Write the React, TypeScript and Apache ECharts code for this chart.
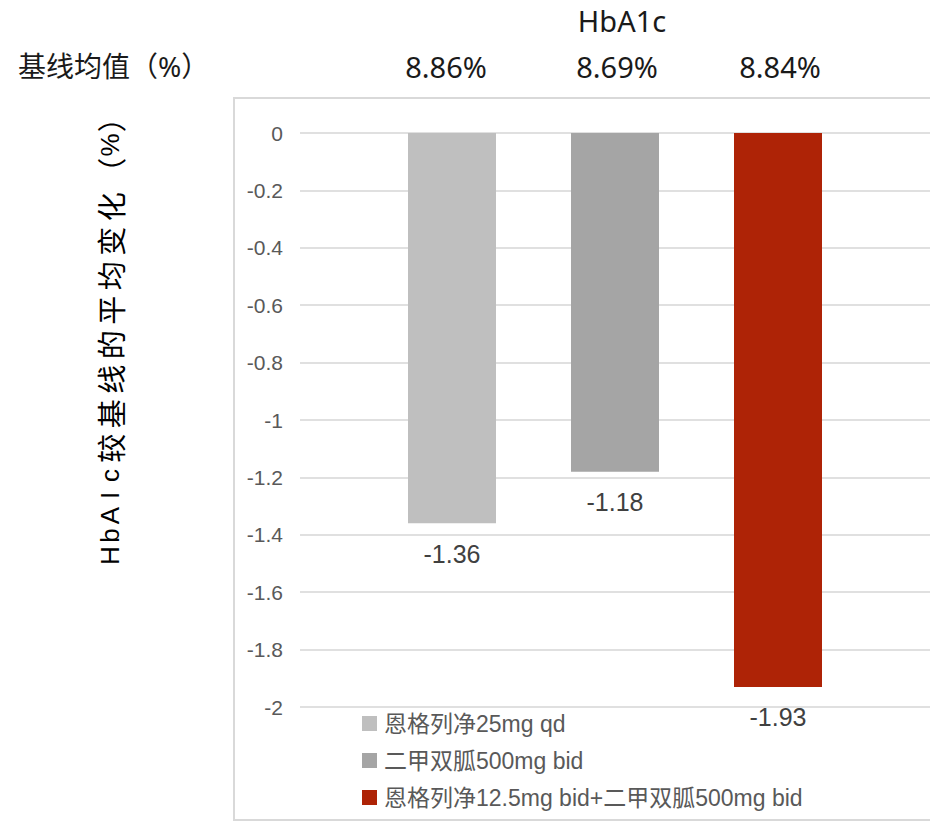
import React, { useEffect, useRef } from "react";
import * as echarts from "echarts";

// Chart data
const categories = ["HbA1c"];
const seriesNames = [
  "恩格列净25mg qd",
  "二甲双胍500mg bid",
  "恩格列净12.5mg bid+二甲双胍500mg bid",
];
const changeValues = [-1.36, -1.18, -1.93];
const baselineValues = [8.86, 8.69, 8.84];
const seriesColors = ["#bfbfbf", "#a5a5a5", "#ae2306"];
const yMin = -2;
const yMax = 0;
const yInterval = 0.2;
const baselineTitle = "基线均值（%）";
const yTitle = "HbAIc较基线的平均变化（%）";

// Layout
const W = 930;
const H = 824;
const GRID_LEFT = 300;
const GRID_TOP = 133;
const GRID_WIDTH = 634;
const GRID_HEIGHT = 574;
const BAR_WIDTH = 88;
const BAR_SPACING = 75;

const numFont = "'Liberation Sans', Arial, 'Noto Sans CJK SC', sans-serif";
const topFont = "'Noto Sans', 'Noto Sans CJK SC', sans-serif";
const cjkFont = "'Noto Sans CJK SC', sans-serif";

// Builds the letter-spaced vertical title: each glyph sits in its own fixed-width cell
function spacedRich(text: string) {
  return Array.from(text)
    .map((ch) => (/[\x00-\x7f]/.test(ch) ? `{l|${ch}}` : `{c|${ch}}`))
    .join("");
}

export default function App() {
  const ref = useRef<HTMLDivElement>(null);

  useEffect(() => {
    if (!ref.current) return;
    const chart = echarts.init(ref.current, undefined, { renderer: "svg" });

    const catCenter = GRID_LEFT + GRID_WIDTH / 2;
    const n = changeValues.length;
    const barCenters = changeValues.map(
      (_, i) => catCenter + (i - (n - 1) / 2) * (BAR_WIDTH + BAR_SPACING)
    );

    chart.setOption({
      animation: false,
      backgroundColor: "#ffffff",
      grid: {
        left: GRID_LEFT,
        top: GRID_TOP,
        width: GRID_WIDTH,
        height: GRID_HEIGHT,
        containLabel: false,
      },
      legend: {
        orient: "vertical",
        left: 357,
        top: 707,
        icon: "rect",
        itemWidth: 15,
        itemHeight: 15,
        itemGap: 14,
        data: seriesNames,
        textStyle: {
          fontFamily: numFont,
          fontSize: 23,
          color: "#595959",
          padding: [0, 0, 0, 2],
        },
      },
      xAxis: {
        type: "category",
        position: "top",
        data: categories,
        axisLine: { show: false },
        axisTick: { show: false },
        axisLabel: {
          margin: 98,
          fontFamily: topFont,
          fontSize: 29,
          color: "#1a1a1a",
          padding: [0, 0, 0, 14],
        },
      },
      yAxis: {
        type: "value",
        min: yMin,
        max: yMax,
        interval: yInterval,
        axisLine: { show: false },
        axisTick: { show: false },
        axisLabel: {
          margin: 17,
          fontFamily: numFont,
          fontSize: 21,
          color: "#595959",
        },
        splitLine: { lineStyle: { color: "#e0e0e0", width: 2 } },
      },
      series: seriesNames.map((name, i) => ({
        name,
        type: "bar",
        data: categories.map(() => changeValues[i]),
        barWidth: BAR_WIDTH,
        barGap: `${(BAR_SPACING / BAR_WIDTH) * 100}%`,
        itemStyle: { color: seriesColors[i] },
        label: {
          show: true,
          position: "bottom",
          distance: 18,
          fontFamily: numFont,
          fontSize: 25,
          color: "#404040",
        },
      })),
      graphic: [
        {
          type: "rect",
          silent: true,
          shape: { x: 234, y: 98, width: W, height: 722 },
          style: { fill: "none", stroke: "#d9d9d9", lineWidth: 2 },
          z: -1,
        },
        {
          type: "text",
          x: 18,
          y: 66,
          style: {
            text: baselineTitle,
            fontFamily: topFont,
            fontSize: 28,
            fill: "#1a1a1a",
            textAlign: "left",
            textVerticalAlign: "middle",
          },
        },
        ...baselineValues.map((v, i) => ({
          type: "text",
          x: barCenters[i] - (i === 0 ? 8 : 0),
          y: 66,
          style: {
            text: `${v.toFixed(2)}%`,
            fontFamily: topFont,
            fontSize: 29,
            fill: "#1a1a1a",
            textAlign: "center",
            textVerticalAlign: "middle",
          },
        })),
        {
          type: "text",
          x: 110,
          y: 333,
          rotation: Math.PI / 2,
          style: {
            text: spacedRich(yTitle),
            textAlign: "center",
            textVerticalAlign: "middle",
            rich: {
              l: {
                fontFamily: numFont,
                fontSize: 26,
                fill: "#000000",
                width: 20,
                align: "center",
              },
              c: {
                fontFamily: cjkFont,
                fontSize: 29,
                fill: "#000000",
                width: 34.5,
                align: "center",
              },
            },
          },
        },
      ],
    });

    return () => chart.dispose();
  }, []);

  return (
    <div
      ref={ref}
      style={{ position: "fixed", left: 0, top: 0, width: W, height: H }}
    />
  );
}
